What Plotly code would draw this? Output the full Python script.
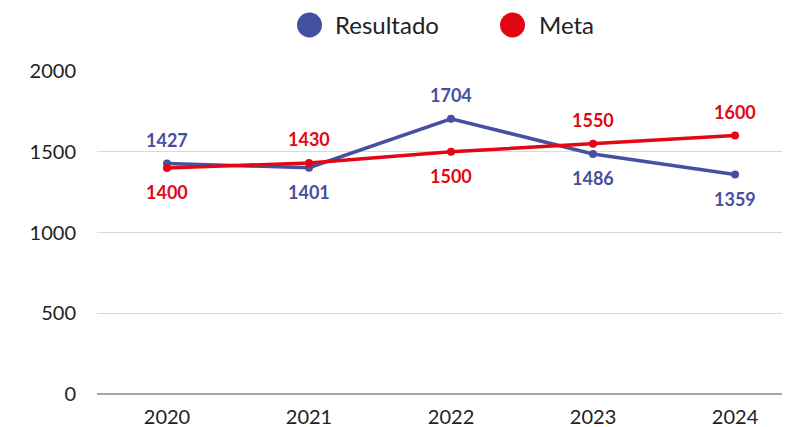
import plotly.graph_objects as go

years = ["2020", "2021", "2022", "2023", "2024"]
resultado = [1427, 1401, 1704, 1486, 1359]
meta = [1400, 1430, 1500, 1550, 1600]
# label placement: +1 above, -1 below
res_pos = [1, -1, 1, -1, -1]
meta_pos = [-1, 1, -1, 1, 1]
y_ticks = [0, 500, 1000, 1500, 2000]

BLUE = "#4650A0"
RED = "#E30613"
FONT = "Lato"

xs = list(range(len(years)))

fig = go.Figure()
fig.add_trace(go.Scatter(x=xs, y=resultado, mode="lines+markers", name="Resultado",
                         line=dict(color=BLUE, width=3.5), marker=dict(size=8, color=BLUE),
                         showlegend=False))
fig.add_trace(go.Scatter(x=xs, y=meta, mode="lines+markers", name="Meta",
                         line=dict(color=RED, width=3.5), marker=dict(size=8, color=RED),
                         showlegend=False))

annotations = []
for vals, pos, col in [(resultado, res_pos, BLUE), (meta, meta_pos, RED)]:
    for x, v, p in zip(xs, vals, pos):
        annotations.append(dict(x=x, y=v, xref="x", yref="y", text=f"<b>{v}</b>",
                                showarrow=False, yshift=24 * p,
                                font=dict(family=FONT, size=18, color=col)))

# manual legend (page pixel positions; plot area spans x 97..790, y 71..394)
legend_items = [("Resultado", BLUE, 309.5, 333), ("Meta", RED, 512.5, 537)]
shapes = []
L, W, T, H = 97, 693, 71, 323
LEG_Y = 25
for name, col, cx, tx in legend_items:
    shapes.append(dict(type="circle", xref="paper", yref="paper", xsizemode="pixel",
                       ysizemode="pixel", xanchor=(cx - L) / W, yanchor=1 + (T - LEG_Y) / H,
                       x0=-12.5, x1=12.5, y0=-12.5, y1=12.5,
                       fillcolor=col, line=dict(width=0)))
    annotations.append(dict(x=(tx - L) / W, y=1 + (T - LEG_Y) / H, xref="paper", yref="paper",
                            text=name, showarrow=False, xanchor="left", yanchor="middle",
                            font=dict(family=FONT, size=24, color="#222222")))

# page body has an 8px margin, so the figure is shrunk by that amount
fig.update_layout(
    width=782, height=419,
    margin=dict(l=89, r=0, t=63, b=33),
    paper_bgcolor="white", plot_bgcolor="white",
    font=dict(family=FONT, color="#222222"),
    annotations=annotations, shapes=shapes,
    xaxis=dict(range=[-0.493, 4.387], tickmode="array", tickvals=xs, ticktext=years,
               showgrid=False, showline=False, zeroline=False,
               tickfont=dict(size=20, color="#222222"), ticks="", ticklabelstandoff=9),
    yaxis=dict(range=[0, 2000], tickmode="array", tickvals=y_ticks,
               showgrid=True, gridcolor="#d9d9d9", gridwidth=1,
               zeroline=True, zerolinecolor="#a6a6a6", zerolinewidth=1.5,
               showline=False, ticks="", ticklabelstandoff=20,
               tickfont=dict(size=20, color="#222222")),
)

fig.write_html("out.html")
